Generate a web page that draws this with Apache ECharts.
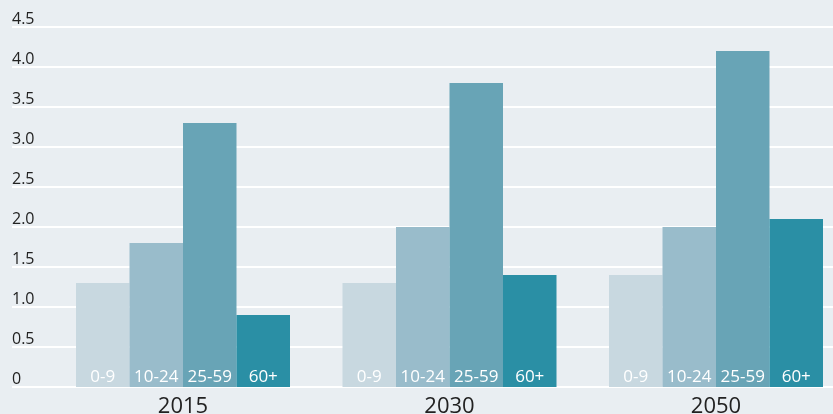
<!DOCTYPE html>
<html>
<head>
<meta charset="utf-8">
<script src="https://cdn.jsdelivr.net/npm/echarts@6/dist/echarts.min.js"></script>
<style>
  html, body { margin: 0; padding: 0; background: #e9eef2; }
  #chart { width: 833px; height: 414px; }
</style>
</head>
<body>
<div id="chart"></div>
<script>
// Population by age group, in billions
const years = ['2015', '2030', '2050'];
const ageGroups = ['0-9', '10-24', '25-59', '60+'];
const age0to9 = [1.3, 1.3, 1.4];
const age10to24 = [1.8, 2.0, 2.0];
const age25to59 = [3.3, 3.8, 4.2];
const age60plus = [0.9, 1.4, 2.1];
const yTicks = [0, 0.5, 1.0, 1.5, 2.0, 2.5, 3.0, 3.5, 4.0, 4.5];

const groupValues = [age0to9, age10to24, age25to59, age60plus];
const groupColors = ['#c8d8e0', '#99bccb', '#68a4b6', '#2a8fa5'];
const font = '"Open Sans", "Noto Sans", sans-serif';

const chart = echarts.init(document.getElementById('chart'));

chart.setOption({
  backgroundColor: '#e9eef2',
  animation: false,
  grid: [
    // bars (the last group runs close to the right edge)
    { left: 49.75, right: -16.25, top: 27, bottom: 27, outerBoundsMode: 'none', containLabel: false },
    // gridlines and value labels
    { left: 12, right: 0, top: 27, bottom: 27, outerBoundsMode: 'none', containLabel: false }
  ],
  xAxis: [
    {
      type: 'category',
      gridIndex: 0,
      data: years,
      axisLine: { show: false },
      axisTick: { show: false },
      axisLabel: { color: '#222', fontSize: 22, fontFamily: font, margin: 9 }
    },
    { type: 'value', gridIndex: 1, show: false, min: 0, max: 1 }
  ],
  yAxis: [
    {
      type: 'value', gridIndex: 0, min: 0, max: 4.5, interval: 0.5,
      axisLine: { show: false }, axisTick: { show: false },
      axisLabel: { show: false }, splitLine: { show: false }
    },
    {
      type: 'value', gridIndex: 1, min: 0, max: 4.5, interval: 0.5,
      axisLine: { show: false }, axisTick: { show: false },
      axisLabel: {
        inside: true, margin: 0, align: 'left', verticalAlign: 'bottom',
        padding: [0, 0, 0, 0],
        color: '#222', fontSize: 16, fontFamily: font,
        formatter: v => {
          const t = yTicks.find(x => Math.abs(x - v) < 1e-9);
          return t === 0 ? '0' : t.toFixed(1);
        }
      },
      splitLine: { lineStyle: { color: '#ffffff', width: 2 } }
    }
  ],
  series: ageGroups.map((name, i) => ({
    name: name,
    type: 'bar',
    xAxisIndex: 0,
    yAxisIndex: 0,
    data: groupValues[i],
    barGap: '0%',
    barCategoryGap: '19.7%',
    itemStyle: { color: groupColors[i] },
    label: {
      show: true,
      position: 'insideBottom',
      distance: 1,
      formatter: '{a}',
      color: '#ffffff',
      fontSize: 17,
      fontFamily: font
    },
    z: 3
  }))
});
</script>
</body>
</html>
